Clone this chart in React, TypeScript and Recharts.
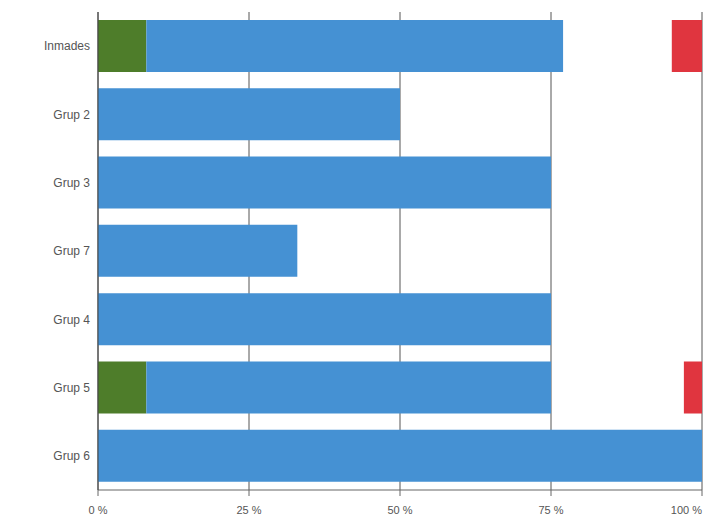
import { BarChart, Bar, XAxis, YAxis, CartesianGrid } from "recharts"

const categories = ["Inmades", "Grup 2", "Grup 3", "Grup 7", "Grup 4", "Grup 5", "Grup 6"]
const greenValues = [8, 0, 0, 0, 0, 8, 0]
const blueValues = [69, 50, 75, 33, 75, 67, 100]
const gapValues = [18, 0, 0, 0, 0, 22, 0]
const redValues = [5, 0, 0, 0, 0, 3, 0]
const xTicks = [0, 25, 50, 75, 100]

const data = categories.map((name, i) => ({
    name,
    green: greenValues[i],
    blue: blueValues[i],
    gap: gapValues[i],
    red: redValues[i],
}))

const font = "Liberation Sans, Arial, sans-serif"

// last tick anchored at end so "100 %" stays inside the frame
function XTick(props: any) {
    const { x, y, payload } = props
    const last = payload.value === xTicks[xTicks.length - 1]
    return (
        <text x={x} y={y} dy={12} textAnchor={last ? "end" : "middle"} fontSize={11} fill="#555" fontFamily={font}>
            {`${payload.value} %`}
        </text>
    )
}

export default function App() {
    return (
        <div style={{ position: "fixed", top: 0, left: 0, width: 704, height: 519, overflow: "hidden", background: "#fff" }}>
            <BarChart
                width={722}
                height={519}
                data={data}
                layout="vertical"
                margin={{ top: 12, right: 20, left: 0, bottom: 0 }}
                barCategoryGap={8}
            >
                <CartesianGrid horizontal={false} vertical stroke="#555" strokeWidth={1} />
                <XAxis
                    type="number"
                    domain={[0, 100]}
                    ticks={xTicks}
                    height={29}
                    axisLine={{ stroke: "#666" }}
                    tickLine={{ stroke: "#666" }}
                    tick={<XTick />}
                    tickMargin={6}
                    allowDataOverflow
                />
                <XAxis
                    xAxisId="top"
                    orientation="top"
                    type="number"
                    domain={[0, 100]}
                    height={0}
                    tick={false}
                    tickLine={false}
                    axisLine={{ stroke: "#999" }}
                />
                <YAxis
                    type="category"
                    dataKey="name"
                    width={98}
                    axisLine={{ stroke: "#444" }}
                    tickLine={false}
                    tick={{ fontSize: 12, fill: "#555", fontFamily: font }}
                />
                <Bar dataKey="green" stackId="a" fill="#4e7d2a" isAnimationActive={false} />
                <Bar dataKey="blue" stackId="a" fill="#4591d3" isAnimationActive={false} />
                <Bar dataKey="gap" stackId="a" fill="transparent" isAnimationActive={false} />
                <Bar dataKey="red" stackId="a" fill="#e0353f" isAnimationActive={false} />
            </BarChart>
        </div>
    )
}
